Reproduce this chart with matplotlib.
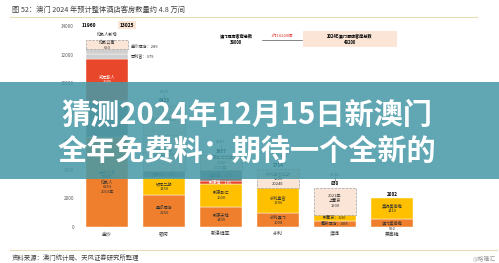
import matplotlib
matplotlib.use('Agg')
import matplotlib.pyplot as plt
from matplotlib.patches import Rectangle
from matplotlib.lines import Line2D

plt.rcParams['font.family'] = ['Noto Sans CJK SC', 'DejaVu Sans']

W, H = 499, 263

# 数据
categories = ['金沙', '银河', '新濠博亚', '永利', '澳博', '美高梅']
yticks = [0, 2000, 4000, 6000, 8000, 10000, 12000, 14000]

sands_rooms = [6253, 2549, 2905, 379, 289, 650]
sands_labels = ['金光大道\n酒店群\n伦敦人\n6253\n2019年', '巴黎人\n2549', '威尼斯人\n2905', '', '', '伦敦公寓\n650']
sands_notes = ['百利宫：379', '金沙酒店：289']
sands_before = 11960

galaxy_rooms = [2250, 1150, 520, 2500, 2100]
galaxy_labels = ['星际酒店\n2250', '银河二期\n1150', '百老汇：520', '银河三期\n2020年(2500)', '2021年(2100)']

melco_rooms = [1400, 1600, 185, 772, 1030]
melco_labels = ['新濠天地\n1400', '新濠影汇\n1600', '新濠锋：185', '摩珀斯：772', '新濠影汇二期\n1030\n2021年']

wynn_rooms = [1008, 1706, 1300]
wynn_labels = ['永利澳门\n1008', '永利皇宫\n1706', '永利皇宫二期\n1300\n2024E']

sjm_rooms = [408, 430, 1900]
sjm_labels = ['葡京酒店：408', '新葡京：430', '2021年\n上葡京\n1900']

mgm_rooms = [592, 1410]
mgm_labels = ['澳门美高梅', '美狮美高梅\n1410']

total_now = 38000
added = 10200
total_2024 = 48200

# 样式
PAL = {'orange': '#ef7f2d', 'yellow': '#ffc000', 'red': '#e8472b',
       'grey': '#7f7f7f', 'lgrey': '#cfcfcf', 'peach': '#fbe5d6'}
sands_kinds = ['orange', 'grey', 'red', 'lgrey', 'lgrey', 'peach']
galaxy_kinds = ['orange', 'yellow', 'grey', 'peach', 'peach']
melco_kinds = ['orange', 'yellow', 'red', 'grey', 'peach']
wynn_kinds = ['orange', 'yellow', 'peach']
sjm_kinds = ['orange', 'yellow', 'peach']
mgm_kinds = ['orange', 'yellow']

BW = 0.72
FS = 3.0


def px(x, y):
    return x / W, 1 - y / H


def draw_stack(ax, i, rooms, labels, kinds):
    bottom = 0
    for v, lab, k in zip(rooms, labels, kinds):
        dashed = k == 'peach'
        ax.bar(i, v, width=BW, bottom=bottom, color=PAL[k],
               edgecolor='#a0a0a0' if dashed else 'white',
               linewidth=0.5 if dashed else 0.3,
               linestyle='--' if dashed else '-')
        if lab:
            ax.text(i, bottom + v / 2, lab, ha='center', va='center', fontsize=FS,
                    color='white' if k == 'red' else '#333333', linespacing=1.3)
        bottom += v
    return bottom


fig = plt.figure(figsize=(W / 100, H / 100), dpi=100)
ax = fig.add_axes([78 / W, (H - 227) / H, (420 - 78) / W, (227 - 26.1) / H])
ax.set_xlim((78 - 107) / 57, (420 - 107) / 57)
ax.set_ylim(0, 14000)

draw_stack(ax, 0, sands_rooms, sands_labels, sands_kinds)
stacks = [(1, galaxy_rooms, galaxy_labels, galaxy_kinds),
          (2, melco_rooms, melco_labels, melco_kinds),
          (3, wynn_rooms, wynn_labels, wynn_kinds),
          (4, sjm_rooms, sjm_labels, sjm_kinds)]
for i, r, l, k in stacks:
    top = draw_stack(ax, i, r, l, k)
    cur = top - r[-1]
    ax.text(i, top + 920, f'{top}', ha='center', va='center', fontsize=FS, color='#333333')
    ax.plot([i, i], [top + 450, top + 760], color='#555555', lw=0.4)
    ax.text(i, top + 280, f'{cur}', ha='center', va='center', fontsize=FS + 0.3,
            color='black', weight='bold')

top = draw_stack(ax, 5, mgm_rooms, mgm_labels, mgm_kinds)
ax.text(5, top + 280, f'{top}', ha='center', va='center', fontsize=FS + 0.3,
        color='black', weight='bold')
ax.text(5, -110, f'{mgm_rooms[0]}', ha='center', va='center', fontsize=FS, color='#333333')

# 金沙顶部标注
s_top = sum(sands_rooms)
ax.text(-0.32, 14050, f'{sands_before}', ha='center', va='center', fontsize=FS + 0.5,
        weight='bold', color='black')
ax.plot([-0.17, 0.22], [14050, 14050], color='#444444', lw=0.4)
ax.text(0.35, 14050, f'{s_top}', ha='center', va='center', fontsize=FS + 0.5,
        weight='bold', color='black',
        bbox=dict(boxstyle='square,pad=0.3', fc=PAL['peach'], ec='none'))
ax.text(0, s_top + 400, '伦敦人新增', ha='center', va='center', fontsize=FS, color='#333333')
b379 = sum(sands_rooms[:3])
ax.text(0.42, b379 + sands_rooms[3] / 2, sands_notes[0], ha='left', va='center',
        fontsize=FS, color='#333333')
ax.text(0.42, b379 + sands_rooms[3] + sands_rooms[4] / 2 + 350, sands_notes[1],
        ha='left', va='center', fontsize=FS, color='#333333')

ax.set_yticks(yticks)
ax.set_yticklabels([str(t) for t in yticks])
ax.set_xticks(range(len(categories)))
ax.set_xticklabels(categories)
ax.tick_params(axis='y', length=0, pad=2.9, labelsize=3.3, labelcolor='#595959')
ax.tick_params(axis='x', length=0, pad=3.2, labelsize=3.5, labelcolor='#333333')
for s in ax.spines.values():
    s.set_visible(False)

# 顶部总数标注
x, y = px(236, 36)
fig.text(x, y, '澳门酒店客房总数', ha='center', va='center', fontsize=FS, weight='bold')
x, y = px(236, 43)
fig.text(x, y, f'{total_now}', ha='center', va='center', fontsize=FS, weight='bold')
fig.add_artist(Line2D([262 / W, 302 / W], [1 - 40 / H] * 2, color='#555555', lw=0.5))
x, y = px(282, 36)
fig.text(x, y, f'+约{added}间', ha='center', va='center', fontsize=FS, color='#e0302a')
fig.add_artist(Rectangle(px(303, 47), 94 / W, 16 / H, transform=fig.transFigure,
                         fc=PAL['peach'], ec='none'))
x, y = px(350, 36)
fig.text(x, y, '2024E澳门酒店客房总数', ha='center', va='center', fontsize=FS, weight='bold')
x, y = px(350, 43)
fig.text(x, y, f'{total_2024}', ha='center', va='center', fontsize=FS, weight='bold')

# 标题与来源
x, y = px(12, 10)
fig.text(x, y, '图 52：澳门 2024 年预计整体酒店客房数量约 4.8 万间', ha='left', va='center',
         fontsize=5.2, color='#404040')
fig.add_artist(Line2D([10 / W, 477 / W], [1 - 17 / H] * 2, color='#e8dbb4', lw=0.8))
fig.add_artist(Line2D([10 / W, 497 / W], [1 - 250 / H] * 2, color='#e8dbb4', lw=0.8))
x, y = px(12, 258)
fig.text(x, y, '资料来源：澳门统计局、天风证券研究所整理', ha='left', va='center',
         fontsize=4.6, color='#404040')
x, y = px(496, 259)
fig.text(x, y, '@格隆汇', ha='right', va='center', fontsize=4.2, color='#9a9a9a')

# 覆盖横幅
fig.add_artist(Rectangle(px(0, 179), 1, 97 / H, transform=fig.transFigure,
                         fc='#4699a7', ec='none', alpha=0.86, zorder=10))
x, y = px(247, 115)
fig.text(x, y, '猜测2024年12月15日新澳门', ha='center', va='center', fontsize=21,
         weight='bold', color='white', zorder=11)
x, y = px(247, 152)
fig.text(x, y, '全年免费料：期待一个全新的', ha='center', va='center', fontsize=21,
         weight='bold', color='white', zorder=11)

fig.savefig('out.png', dpi=100)
